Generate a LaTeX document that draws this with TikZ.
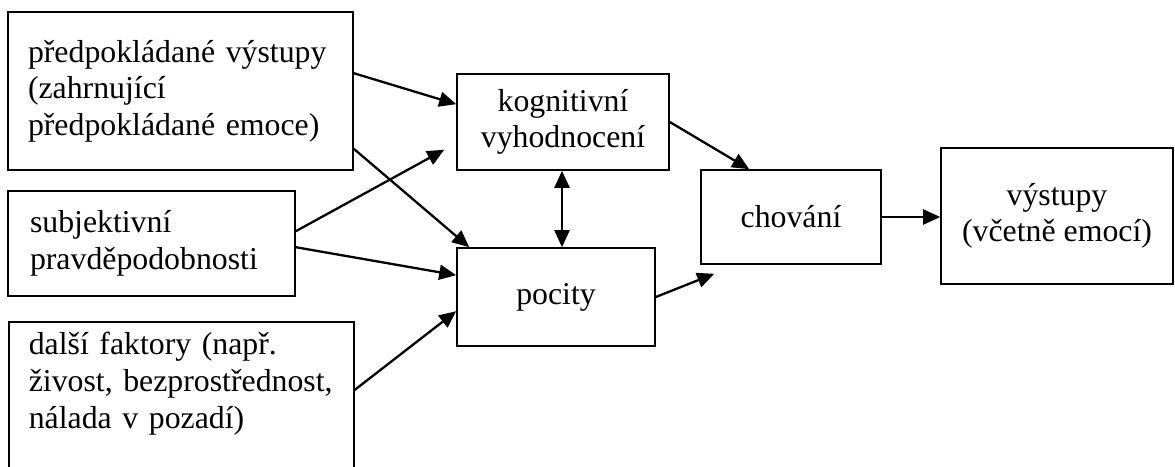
\documentclass[tikz,border=0pt]{standalone}
\usepackage{fontspec}
\setmainfont{Liberation Serif}
\usetikzlibrary{arrows.meta}
\begin{document}
\begin{tikzpicture}[x=1pt,y=-1pt,
  box/.style={draw, line width=1.6pt, inner sep=0pt, font=\fontsize{31.8}{36.6}\selectfont},
  lbox/.style={box, align=left},
  cbox/.style={box, align=center},
  arr/.style={line width=2.3pt, -{Triangle[length=17pt,width=15pt]}},
  darr/.style={line width=2.3pt, {Triangle[length=17pt,width=15pt]}-{Triangle[length=17pt,width=15pt]}}]
\useasboundingbox (0,0) rectangle (1175,466);
\clip (0,0) rectangle (1175,466);
\fill[white] (0,0) rectangle (1175,466);
\node[lbox, inner xsep=20pt, text width=305pt, minimum height=158pt] (A) at (180.5,91) {předpokládané výstupy\\(zahrnující\\předpokládané emoce)};
\node[lbox, inner xsep=22pt, text width=243pt, minimum height=105pt] (B) at (151.5,243.5) {subjektivní\\pravděpodobnosti};
\node[lbox, inner xsep=20pt, text width=305pt, minimum height=150pt, anchor=north west] (C) at (8,321) {další faktory (např.\\živost, bezprostřednost,\\nálada v pozadí)\rule[-33pt]{0pt}{0pt}};
\node[cbox, minimum width=212pt, minimum height=96pt] (D) at (563,122) {kognitivní\\vyhodnocení};
\node[cbox, minimum width=198pt, minimum height=98pt] (P) at (556,297) {pocity};
\node[cbox, minimum width=180pt, minimum height=94pt] (F) at (791,217) {chování};
\node[cbox, minimum width=232pt, minimum height=136pt] (G) at (1057,216) {výstupy\\(včetně emocí)};
\draw[arr] ([yshift=-62pt]A.north east) -- ([yshift=-31pt]D.north west);
\draw[arr] ([yshift=22pt]A.south east) -- ([xshift=13pt]P.north west);
\draw[arr] ([yshift=-41pt]B.north east) -- ([xshift=-12pt,yshift=21pt]D.south west);
\draw[arr] ([yshift=-57pt]B.north east) -- ([yshift=-28pt]P.north west);
\draw[arr] ([yshift=-69pt]C.north east) -- ([yshift=-64pt]P.north west);
\draw[arr] (D.east) -- ([xshift=49pt]F.north west);
\draw[arr] (P.east) -- ([xshift=14pt,yshift=-9pt]F.south west);
\draw[arr] (F.east) -- (F.east -| G.west);
\draw[darr] ([xshift=-1pt]D.south) -- ([xshift=-1pt]D.south |- P.north);
\end{tikzpicture}
\end{document}
